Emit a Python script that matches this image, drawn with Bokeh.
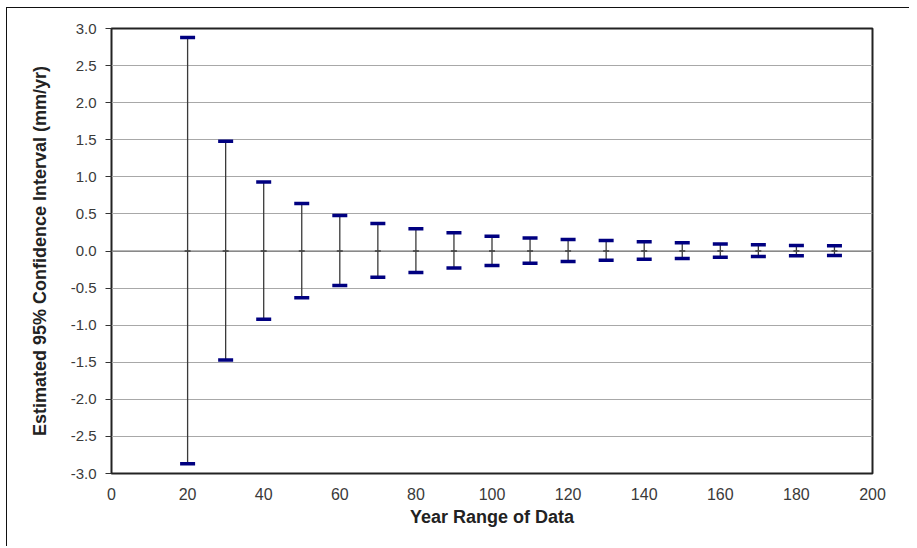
from bokeh.plotting import figure
from bokeh.models import Range1d, FixedTicker, PrintfTickFormatter, Span, ColumnDataSource
from bokeh.embed import file_html
from bokeh.resources import INLINE

# ---- data ----
years = [20, 30, 40, 50, 60, 70, 80, 90, 100, 110, 120, 130, 140, 150, 160, 170, 180, 190]
upper = [2.88, 1.48, 0.93, 0.64, 0.48, 0.37, 0.30, 0.245, 0.20, 0.175, 0.155, 0.14, 0.125, 0.11, 0.095, 0.085, 0.075, 0.07]
lower = [-2.87, -1.47, -0.92, -0.63, -0.465, -0.355, -0.29, -0.23, -0.195, -0.165, -0.14, -0.125, -0.11, -0.10, -0.085, -0.075, -0.065, -0.06]
center = [0, 0, 0, 0, 0, 0, 0, 0, 0, 0, 0, 0, 0, 0, 0, 0, 0, 0]
x_ticks = [0, 20, 40, 60, 80, 100, 120, 140, 160, 180, 200]
y_ticks = [-3.0, -2.5, -2.0, -1.5, -1.0, -0.5, 0.0, 0.5, 1.0, 1.5, 2.0, 2.5, 3.0]
x_title = "Year Range of Data"
y_title = "Estimated 95% Confidence Interval (mm/yr)"

src = ColumnDataSource(dict(x=years, hi=upper, lo=lower, c=center))

p = figure(width=903, height=539, output_backend="svg", toolbar_location=None,
           x_range=Range1d(0, 200), y_range=Range1d(-3, 3),
           min_border_left=104, min_border_right=38, min_border_top=20, min_border_bottom=74)
p.styles = {"border-top": "1px solid #111", "border-left": "1px solid #111",
            "margin-left": "6px", "margin-top": "7px"}

p.background_fill_color = "white"
p.border_fill_color = "white"
p.outline_line_color = "#222222"
p.outline_line_width = 2

p.xgrid.grid_line_color = None
p.ygrid.grid_line_color = "#a8a8a8"
p.ygrid.grid_line_width = 1
p.ygrid.ticker = FixedTicker(ticks=y_ticks)
p.add_layout(Span(location=0, dimension="width", line_color="#6a6a6a", line_width=1))

p.xaxis.ticker = FixedTicker(ticks=x_ticks)
p.yaxis.ticker = FixedTicker(ticks=y_ticks)
p.yaxis.formatter = PrintfTickFormatter(format="%.1f")

for ax in (p.xaxis, p.yaxis):
    ax.axis_line_color = None
    ax.minor_tick_line_color = None
    ax.major_label_text_font = "Liberation Sans"
    ax.major_label_text_color = "#3a3a3a"
    ax.axis_label_text_font = "Liberation Sans"
    ax.axis_label_text_font_style = "bold"
    ax.axis_label_text_color = "#222222"
    ax.axis_label_text_font_size = "18px"

p.xaxis.major_tick_line_color = None
p.xaxis.major_tick_out = 0
p.xaxis.major_tick_in = 0
p.xaxis.major_label_standoff = 14
p.xaxis.major_label_text_font_size = "16px"
p.xaxis.axis_label = x_title
p.xaxis.axis_label_standoff = 4

p.yaxis.major_tick_line_color = "#333333"
p.yaxis.major_tick_out = 6
p.yaxis.major_tick_in = 0
p.yaxis.major_label_standoff = 9
p.yaxis.major_label_text_font_size = "15px"
p.yaxis.axis_label = y_title
p.yaxis.axis_label_standoff = 18

# error bars
p.segment(x0="x", y0="lo", x1="x", y1="hi", source=src, line_color="#3a3a3a", line_width=1.3)
p.scatter(x="x", y="hi", source=src, marker="dash", size=15, line_color="#000080", line_width=3.5)
p.scatter(x="x", y="lo", source=src, marker="dash", size=15, line_color="#000080", line_width=3.5)
p.scatter(x="x", y="c", source=src, marker="dash", size=6, line_color="#111111", line_width=1.5)

open("out.html", "w").write(file_html(p, INLINE))
